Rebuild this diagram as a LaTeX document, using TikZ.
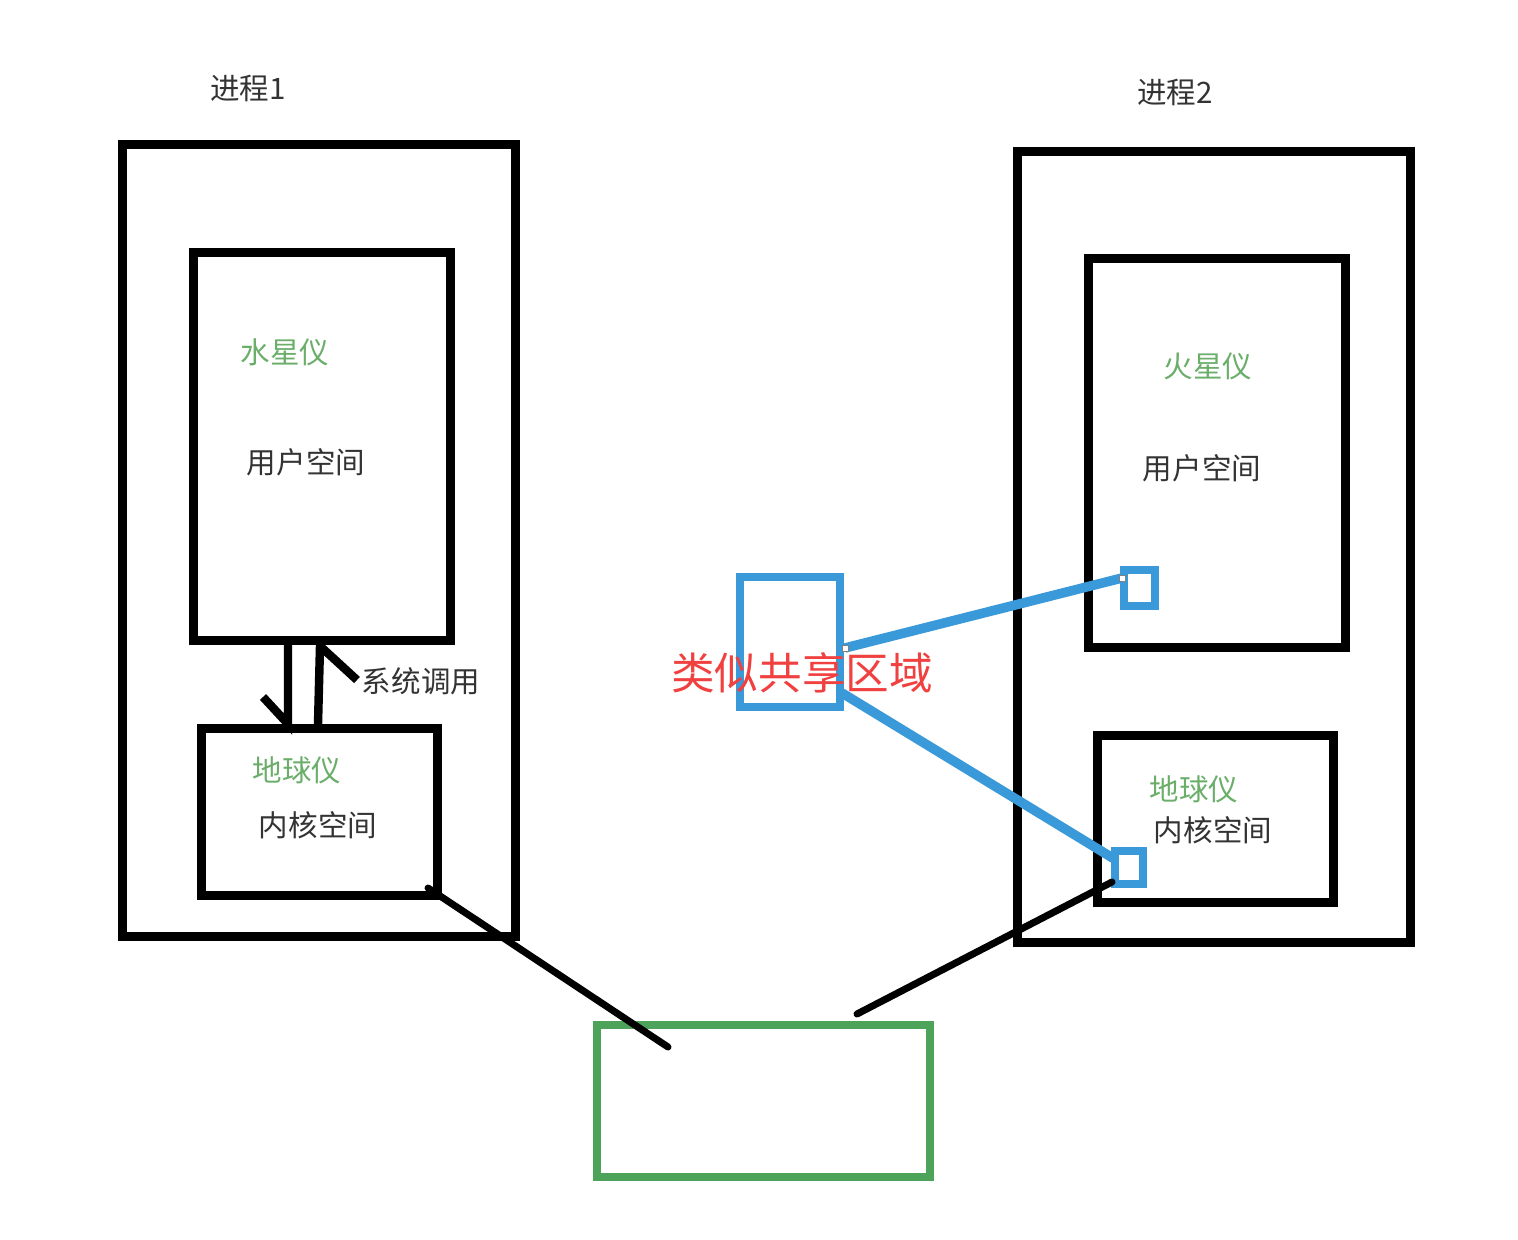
\documentclass[tikz,border=0pt]{standalone}
\usepackage{fontspec}
\newfontfamily\cjk{Noto Sans CJK SC}
\usetikzlibrary{fit, positioning}
\definecolor{boxBlue}{HTML}{3A9AD9}
\definecolor{poolGreen}{HTML}{4EA35B}
\definecolor{nameGreen}{HTML}{6AAE6A}
\definecolor{textDark}{HTML}{333333}
\definecolor{noteRed}{HTML}{F0403F}

\begin{document}
\begin{tikzpicture}[x=0.025cm,y=-0.025cm,
        every node/.style={font=\cjk\fontsize{21}{23}\selectfont,text=textDark,inner sep=0pt},
        box/.style={draw=black,line width=6.4pt},
        shm/.style={draw=boxBlue,line width=6.2pt},
        pool/.style={draw=poolGreen,line width=5pt},
        tag/.style={text=nameGreen},
        link/.style={line width=5pt,line cap=round},
        blink/.style={draw=boxBlue,line width=6.8pt},
        grip/.style={draw=gray,fill=white,line width=0.4pt,minimum size=4pt}]
        \useasboundingbox (0,0) rectangle (1518,1240);
        % process 1
        \node[box,fit={(122,145) (515,936)}] (proc1) {};
        \node[box,fit={(193,253) (450,640)}] (user1) {};
        \node[box,fit={(201,728) (437,895)}] (kern1) {};
        \node (pname1) at (248,88) {进程1};
        \node[tag] (app1) at (285,352) {水星仪};
        \node (ulbl1) at (306,462) {用户空间};
        \node[tag] (kapp1) at (297,770) {地球仪};
        \node (klbl1) at (318,825) {内核空间};
        \node (sys) at (421,681) {系统调用};
        % process 2
        \node[box,fit={(1017,152) (1410,942)}] (proc2) {};
        \node[box,fit={(1088,259) (1345,647)}] (user2) {};
        \node[box,fit={(1097,735) (1333,902)}] (kern2) {};
        \node (pname2) at (1175,92) {进程2};
        \node[tag] (app2) at (1208,366) {火星仪};
        \node (ulbl2) at (1202,468) {用户空间};
        \node[tag] (kapp2) at (1194,789) {地球仪};
        \node (klbl2) at (1213,830) {内核空间};
        % shared area
        \node[shm,fit={(740,577) (840,707)}] (share) {};
        \node[shm,fit={(1124,570) (1155,606)}] (map1) {};
        \node[shm,fit={(1115,851) (1143,884)}] (map2) {};
        \node[text=noteRed,font=\cjk\fontsize{31}{34}\selectfont] (sharelbl) at (802,673) {类似共享区域};
        \node[pool,fit={(597,1025) (930,1177)}] (kpool) {};
        % system call arrows
        \coordinate (dn1) at (288,645);
        \coordinate (dn2) at (288,724);
        \coordinate (up1) at (318,724);
        \coordinate (up2) at (320,646);
        \draw[line width=6pt] (dn1) -- (dn2) -- (263,697);
        \draw[line width=6pt] (up1) -- (up2) -- (357,680);
        % links
        \coordinate (s1) at (845,648);
        \coordinate (s2) at (842,693);
        \coordinate (m1) at (1122,578);
        \coordinate (m2) at (1116,860);
        \draw[blink] (s1) -- (m1);
        \draw[blink] (s2) -- (m2);
        \node[grip] (g1) at (s1) {};
        \node[grip] (g2) at (m1) {};
        \coordinate (k1) at (428,888);
        \coordinate (k2) at (1112,882);
        \draw[link] (k1) -- (668,1047);
        \draw[link] (k2) -- (857,1014);
      \end{tikzpicture}
\end{document}
